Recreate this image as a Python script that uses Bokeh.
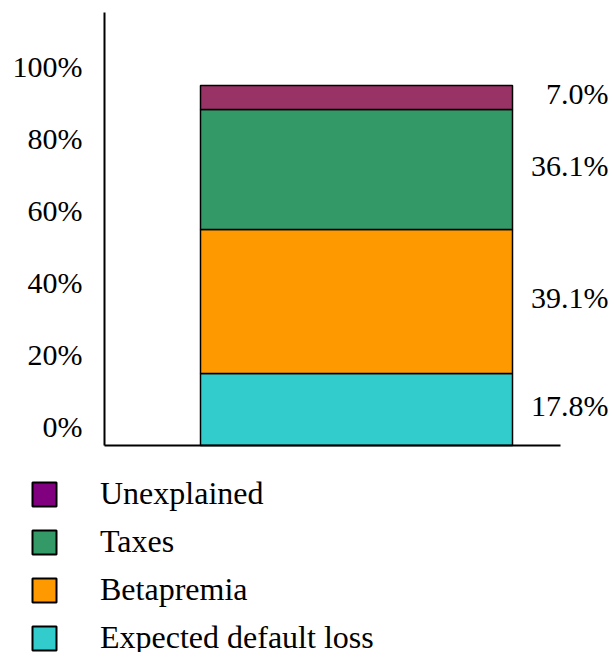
from bokeh.plotting import figure
from bokeh.models import (ColumnDataSource, Range1d, FixedTicker, PrintfTickFormatter,
                          Legend, LegendItem)
from bokeh.embed import file_html
from bokeh.resources import INLINE

# data (bottom to top)
components = ["Expected default loss", "Betapremia", "Taxes", "Unexplained"]
bar_values = [20.0, 40.0, 33.3, 6.7]          # heights as drawn in the picture (%)
value_labels = ["17.8%", "39.1%", "36.1%", "7.0%"]
bar_colors = ["#33CCCC", "#FF9900", "#339966", "#993366"]
legend_colors = ["#33CCCC", "#FF9900", "#339966", "#800080"]
y_ticks = [0, 20, 40, 60, 80, 100]

FONT = "Liberation Serif"
NAN = float("nan")

tops, bottoms, acc = [], [], 0.0
for v in bar_values:
    bottoms.append(acc)
    acc += v
    tops.append(acc)
mids = [(b + t) / 2 for b, t in zip(bottoms, tops)]

bar_x = 0.0
bar_w = 1.0
src = ColumnDataSource(dict(x=[bar_x] * len(components), bottom=bottoms, top=tops,
                            color=bar_colors, mid=mids, lab=value_labels,
                            right=[bar_x + bar_w / 2] * len(components)))

# layout geometry (pixels)
W, H = 612, 652
XPX = 312.0            # pixels per x unit (bar width)
BAR_C = 356.0          # bar centre, px from left
AX_X = 104.0           # y axis position, px from left
AX_R = 560.0           # right end of x axis line
PX = 3.6               # pixels per percent
BASE = 445.0           # baseline, px from top
AX_TOP = 12.0          # top of y axis line
SHIFT = 19.0 / PX      # tick labels sit above their tick

x0 = -BAR_C / XPX
x1 = (W - BAR_C) / XPX
y0 = -(H - BASE) / PX
y1 = BASE / PX
y_axis_top = (BASE - AX_TOP) / PX

p = figure(width=W, height=H, output_backend="svg", toolbar_location=None,
           x_range=Range1d(x0, x1), y_range=Range1d(y0, y1), min_border=0)
p.extra_y_ranges = {"ticks": Range1d(y0 - SHIFT, y1 - SHIFT)}
p.outline_line_color = None
p.grid.visible = False

p.vbar(x="x", width=bar_w, bottom="bottom", top="top", fill_color="color",
       line_color="black", line_width=1.5, source=src)

p.text(x="right", y="mid", text="lab", source=src, x_offset=96, y_offset=-4,
       text_align="right", text_baseline="middle",
       text_font=FONT, text_font_size="30px", text_color="black")

# axes
yax = p.yaxis[0]
yax.y_range_name = "ticks"
yax.fixed_location = (AX_X - BAR_C) / XPX
yax.bounds = (-SHIFT, y_axis_top - SHIFT)
yax.ticker = FixedTicker(ticks=y_ticks)
yax.formatter = PrintfTickFormatter(format="%d%%")
yax.major_label_text_font = FONT
yax.major_label_text_font_size = "30px"
yax.major_label_text_color = "black"
yax.major_label_standoff = 22

xax = p.xaxis[0]
xax.fixed_location = 0
xax.bounds = ((AX_X - BAR_C) / XPX, (AX_R - BAR_C) / XPX)
xax.ticker = FixedTicker(ticks=[])
xax.major_label_text_font_size = "0px"
xax.major_label_standoff = 0

for ax in (xax, yax):
    ax.axis_line_width = 2
    ax.axis_line_color = "black"
    ax.major_tick_line_color = None
    ax.minor_tick_line_color = None
    ax.major_tick_out = 0
    ax.major_tick_in = 0

# legend with its own colour swatches (renderers draw nothing in the plot)
items = []
for name, col in reversed(list(zip(components, legend_colors))):
    r = p.quad(left=[NAN], right=[NAN], top=[NAN], bottom=[NAN], fill_color=col,
               line_color="black", line_width=2)
    items.append(LegendItem(label=name, renderers=[r]))

legend = Legend(items=items, location=(29, -4), orientation="vertical",
                glyph_width=30, glyph_height=30, label_standoff=41,
                label_text_font=FONT, label_text_font_size="32px",
                label_text_color="black", label_height=34, spacing=11,
                padding=0, margin=0,
                border_line_color=None, background_fill_alpha=0)
p.add_layout(legend)

open("out.html", "w").write(file_html(p, INLINE))
